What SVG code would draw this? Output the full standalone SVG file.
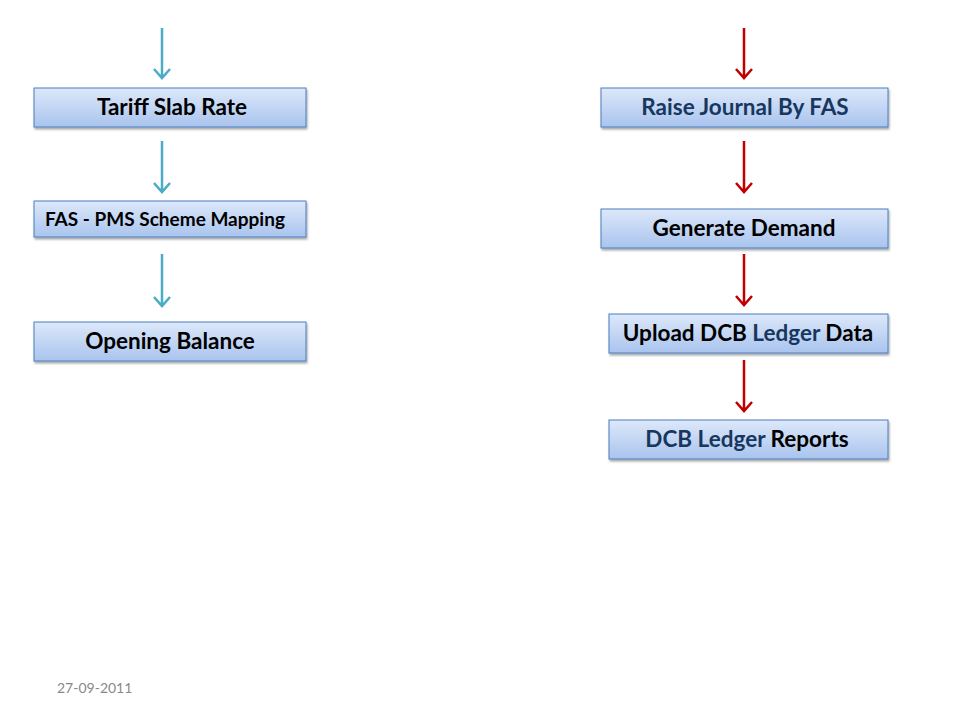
<svg xmlns="http://www.w3.org/2000/svg" width="960" height="720" viewBox="0 0 960 720">
<style>
.box{fill:url(#g);stroke:#4a7ebb;stroke-width:1}
.t{font-family:Lato,"Open Sans",sans-serif;font-weight:bold;font-size:22.5px;fill:#000;text-anchor:middle}
.n{fill:#17375e}
.ca{stroke:#4bacc6;stroke-width:2.5;fill:none}
.cr{stroke:#c00000;stroke-width:2.5;fill:none}
</style>
<defs>
<linearGradient id="g" x1="0" y1="0" x2="0" y2="1">
<stop offset="0" stop-color="#dde8fa"/>
<stop offset="1" stop-color="#a9c4ee"/>
</linearGradient>
<filter id="sh" x="-5%" y="-20%" width="110%" height="150%">
<feDropShadow dx="1" dy="2" stdDeviation="1.2" flood-color="#000" flood-opacity="0.35"/>
</filter>
</defs>
<rect width="960" height="720" fill="#fff"/>
<g id="connectors">
<path class="ca" d="M162 28V78M154 69L162 78L170 69"/>
<path class="ca" d="M162 141V192M154 183L162 192L170 183"/>
<path class="ca" d="M162 254V306M154 297L162 306L170 297"/>
<path class="cr" d="M744 28V78M736 69L744 78L752 69"/>
<path class="cr" d="M744 141V192M736 183L744 192L752 183"/>
<path class="cr" d="M744 254V305M736 296L744 305L752 296"/>
<path class="cr" d="M744 360V411M736 402L744 411L752 402"/>
</g>
<g id="tariff"><rect class="box" filter="url(#sh)" x="34" y="88" width="272" height="39"/><text class="t" x="172" y="115">Tariff Slab Rate</text></g>
<g id="fas"><rect class="box" filter="url(#sh)" x="34" y="201" width="272" height="36"/><text class="t" x="45" y="226" style="font-size:19px;text-anchor:start">FAS - PMS Scheme Mapping</text></g>
<g id="opening"><rect class="box" filter="url(#sh)" x="34" y="322" width="272" height="39"/><text class="t" x="170" y="349">Opening Balance</text></g>
<g id="raise"><rect class="box" filter="url(#sh)" x="601" y="88" width="287" height="39"/><text class="t n" x="745" y="115">Raise Journal By FAS</text></g>
<g id="generate"><rect class="box" filter="url(#sh)" x="601" y="209" width="287" height="39"/><text class="t" x="744" y="236">Generate Demand</text></g>
<g id="upload"><rect class="box" filter="url(#sh)" x="609" y="314" width="279" height="39"/><text class="t" x="748" y="341">Upload DCB <tspan class="n">Ledger</tspan> Data</text></g>
<g id="reports"><rect class="box" filter="url(#sh)" x="609" y="420" width="279" height="39"/><text class="t" x="747" y="447"><tspan class="n">DCB Ledger</tspan> Reports</text></g>
<text x="57" y="693" style="font-family:Lato,'Open Sans',sans-serif;font-size:14px;fill:#898989">27-09-2011</text>
</svg>
